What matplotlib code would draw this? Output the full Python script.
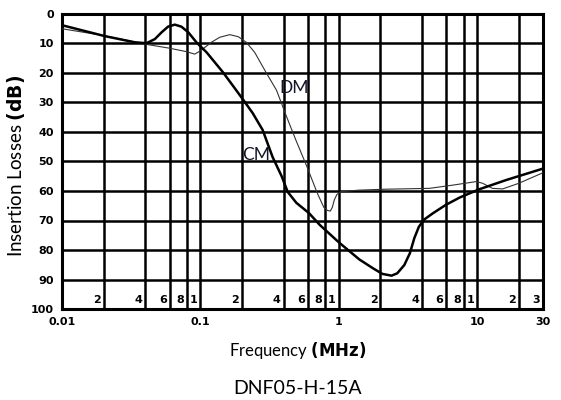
import matplotlib
matplotlib.use("Agg")
import matplotlib.pyplot as plt

plt.rcParams["font.family"] = ["Lato", "DejaVu Sans"]
plt.rcParams["mathtext.fontset"] = "custom"
plt.rcParams["mathtext.bf"] = "DejaVu Sans:bold"

# common-mode curve (MHz, dB)
cm_freq = [0.01, 0.0204, 0.0337, 0.0408, 0.0469, 0.0525, 0.0584, 0.0654, 0.073,
           0.0818, 0.0937, 0.111, 0.146, 0.175, 0.205, 0.239, 0.282, 0.333, 0.387,
           0.428, 0.494, 0.61, 0.73, 0.93, 1.02, 1.41, 1.77, 2.07, 2.41, 2.65,
           2.98, 3.27, 3.52, 3.8, 4.17, 4.78, 5.95, 7.5, 10.4, 16.2, 30]
cm_loss = [3.8, 7.5, 9.6, 9.9, 8.5, 6.2, 4.3, 3.6, 4.3,
           6.2, 9.6, 13.0, 19.8, 24.8, 29.2, 33.6, 39.3, 48.5, 55.0,
           60.3, 64.0, 67.5, 71.5, 76.0, 77.7, 83.2, 86.2, 88.1, 88.7, 87.9,
           85.1, 81.1, 76.0, 72.1, 69.6, 67.6, 64.7, 62.2, 59.4, 56.3, 52.4]

# differential-mode curve (MHz, dB)
dm_freq = [0.01, 0.02, 0.0408, 0.06, 0.08, 0.091, 0.096, 0.104, 0.12, 0.138,
           0.163, 0.188, 0.215, 0.247, 0.30, 0.355, 0.42, 0.49, 0.59, 0.70,
           0.78, 0.83, 0.87, 0.90, 0.93, 0.97, 1.04, 1.41, 2.17, 4.54, 6.7, 9.9,
           11.0, 12.9, 15.3, 20, 30]
dm_loss = [5.0, 7.3, 10.3, 11.6, 12.8, 13.6, 13.0, 11.9, 9.6, 7.9,
           7.0, 7.7, 9.6, 13.0, 20.0, 25.8, 34.8, 42.7, 51.8, 60.7,
           65.5, 66.6, 66.8, 65.5, 63.0, 61.2, 60.2, 59.7, 59.4, 59.1, 58.0, 56.8,
           57.4, 59.1, 59.3, 57.4, 53.8]

major_x = [0.01, 0.1, 1, 10, 30]
major_x_labels = ["0.01", "0.1", "1", "10", "30"]
grid_x = [0.02, 0.04, 0.06, 0.08, 0.1, 0.2, 0.4, 0.6, 0.8, 1, 2, 4, 6, 8, 10, 20, 30]
grid_x_labels = ["2", "4", "6", "8", "1", "2", "4", "6", "8", "1", "2", "4", "6", "8", "1", "2", "3"]
y_ticks = [0, 10, 20, 30, 40, 50, 60, 70, 80, 90, 100]

fig = plt.figure(figsize=(5.61, 4.0), dpi=100)
ax = fig.add_axes([0.1105, 0.2275, 0.8575, 0.7375])

ax.plot(dm_freq, dm_loss, color="#333333", lw=0.8, zorder=3)
ax.plot(cm_freq, cm_loss, color="black", lw=1.8, zorder=4)

ax.set_xscale("log")
ax.set_xlim(0.01, 30)
ax.set_ylim(100, 0)

ax.set_xticks(major_x)
ax.set_xticklabels(major_x_labels)
ax.set_xticks([g for g in grid_x if g not in major_x], minor=True)
ax.set_xticklabels([], minor=True)
ax.set_yticks(y_ticks)
ax.set_yticklabels([str(v) for v in y_ticks])
ax.tick_params(which="both", length=0)
ax.tick_params(axis="x", pad=6)
ax.tick_params(axis="y", pad=6)
for lab in ax.get_xticklabels() + ax.get_yticklabels():
    lab.set_fontfamily("DejaVu Sans")
    lab.set_fontweight("bold")
    lab.set_fontsize(8)

ax.grid(True, which="both", color="black", lw=1.8)
for sp in ax.spines.values():
    sp.set_linewidth(2.2)

# little decade digits sitting inside the bottom of the plot
for gx, gl in zip(grid_x, grid_x_labels):
    ax.annotate(gl, xy=(gx, 0), xycoords=("data", "axes fraction"),
                xytext=(-2, 3), textcoords="offset points",
                ha="right", va="bottom", fontsize=8, fontweight="bold",
                family="DejaVu Sans", zorder=5)

ax.text(0.37, 26.8, "DM", fontsize=12.5, color="#14142a", va="baseline", zorder=5)
ax.text(0.20, 49.5, "CM", fontsize=12.5, color="#14142a", va="baseline", zorder=5)

ax.set_xlabel(r"Frequency $\mathbf{(MHz)}$", fontsize=12)
ax.xaxis.set_label_coords(0.49, -0.105)
ax.set_ylabel(r"Insertion Losses $\mathbf{(dB)}$", fontsize=13.5)
ax.yaxis.set_label_coords(-0.072, 0.485)

fig.text(0.531, 0.03, "DNF05-H-15A", ha="center", va="center", fontsize=14)

fig.savefig("out.png", dpi=100)
